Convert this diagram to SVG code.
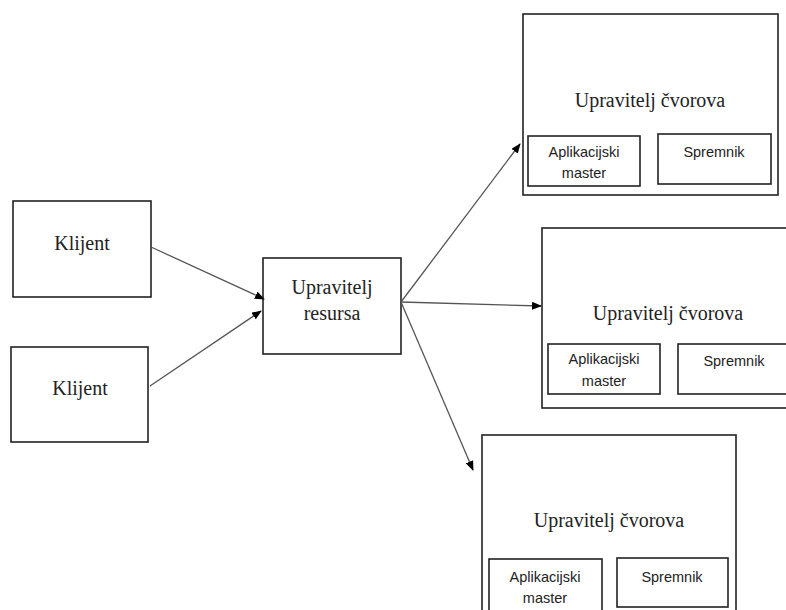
<svg xmlns="http://www.w3.org/2000/svg" width="786" height="610" viewBox="0 0 786 610">
<defs>
<marker id="ah" markerWidth="10" markerHeight="8" refX="9" refY="4" orient="auto" markerUnits="userSpaceOnUse">
<path d="M0,0 L10,4 L0,8 Z" fill="#000"/>
</marker>
<style>
.box{fill:#fff;stroke:#222;stroke-width:1.6}
.in{fill:#fff;stroke:#222;stroke-width:1.6}
.t{font-family:"Liberation Serif","Times New Roman",serif;font-size:20px;fill:#222;text-anchor:middle}
.s{font-family:"Liberation Sans",Arial,sans-serif;font-size:14.5px;fill:#222;text-anchor:middle}
.c{stroke:#555;stroke-width:1.3;fill:none;marker-end:url(#ah)}
</style>
</defs>
<rect width="786" height="610" fill="#fff"/>
<g id="klijent1"><rect class="box" x="13" y="201" width="138" height="96"/><text class="t" x="82" y="250">Klijent</text></g>
<g id="klijent2"><rect class="box" x="11" y="347" width="137" height="95"/><text class="t" x="80" y="395">Klijent</text></g>
<g id="upravitelj-resursa"><rect class="box" x="263" y="258" width="138" height="96"/><text class="t" x="332" y="294">Upravitelj</text><text class="t" x="332" y="320">resursa</text></g>
<g id="cvor1"><rect class="box" x="523" y="14" width="255" height="181"/><text class="t" x="650" y="107">Upravitelj čvorova</text>
<rect class="in" x="528" y="136" width="112" height="50"/><text class="s" x="584" y="157">Aplikacijski</text><text class="s" x="584" y="178">master</text>
<rect class="in" x="658" y="134" width="113" height="50"/><text class="s" x="714" y="157">Spremnik</text></g>
<g id="cvor2"><rect class="box" x="542" y="228" width="250" height="180"/><text class="t" x="668" y="320">Upravitelj čvorova</text>
<rect class="in" x="548" y="344" width="112" height="50"/><text class="s" x="604" y="364">Aplikacijski</text><text class="s" x="604" y="386">master</text>
<rect class="in" x="678" y="344" width="112" height="50"/><text class="s" x="734" y="366">Spremnik</text></g>
<g id="cvor3"><rect class="box" x="482" y="435" width="254" height="180"/><text class="t" x="609" y="527">Upravitelj čvorova</text>
<rect class="in" x="489" y="559" width="113" height="55"/><text class="s" x="545" y="582">Aplikacijski</text><text class="s" x="545" y="603">master</text>
<rect class="in" x="617" y="558" width="111" height="49"/><text class="s" x="672" y="582">Spremnik</text></g>
<g id="connectors">
<line class="c" x1="151" y1="247" x2="264" y2="299"/>
<line class="c" x1="150" y1="386" x2="261" y2="311"/>
<line class="c" x1="401" y1="302" x2="520" y2="144"/>
<line class="c" x1="401" y1="302" x2="541" y2="306"/>
<line class="c" x1="401" y1="302" x2="473" y2="470"/>
</g>
</svg>
